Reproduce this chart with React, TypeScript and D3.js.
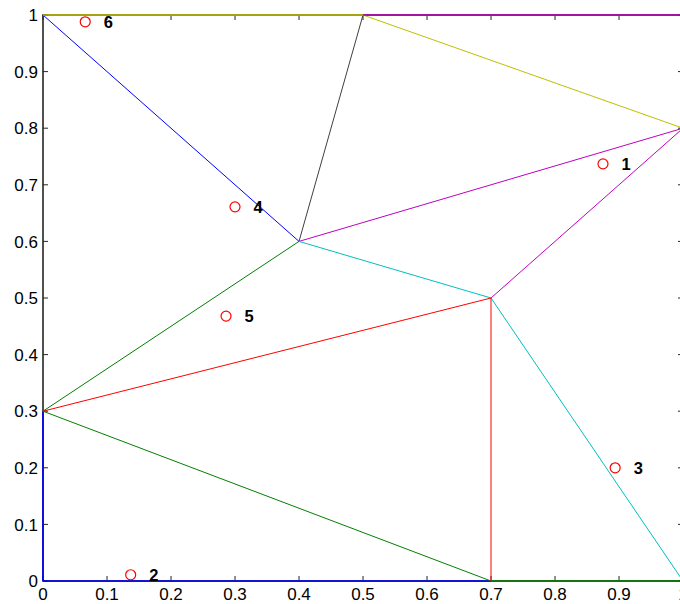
import React from "react";
import * as d3 from "d3";

const xTicks = [0, 0.1, 0.2, 0.3, 0.4, 0.5, 0.6, 0.7, 0.8, 0.9, 1];
const yTicks = [0, 0.1, 0.2, 0.3, 0.4, 0.5, 0.6, 0.7, 0.8, 0.9, 1];

// site points
const siteX = [0.875, 0.137, 0.894, 0.3, 0.286, 0.066];
const siteY = [0.737, 0.011, 0.2, 0.661, 0.468, 0.988];
const siteLabels = ["1", "2", "3", "4", "5", "6"];

// cell edges: [x1, y1, x2, y2]
const blueEdges = [[0, 1, 0.4, 0.6], [0, 0.3, 0, 0], [0, 0, 0.7, 0]];
const darkEdges = [[0.5, 1, 0.4, 0.6]];
const olivEdges = [[0, 1, 0.5, 1], [0.5, 1, 1, 0.8]];
const magentaEdges = [[0.5, 1, 1, 1], [0.4, 0.6, 1, 0.8], [0.7, 0.5, 1, 0.8]];
const cyanEdges = [[0.4, 0.6, 0.7, 0.5], [0.7, 0.5, 1, 0]];
const greenEdges = [[0.4, 0.6, 0, 0.3], [0, 0.3, 0.7, 0], [0.7, 0, 1, 0]];
const redEdges = [[0, 0.3, 0.7, 0.5], [0.7, 0.5, 0.7, 0]];

const edgeGroups: [number[][], string][] = [
  [blueEdges, "#0000ff"],
  [darkEdges, "#404040"],
  [olivEdges, "#bfbf00"],
  [magentaEdges, "#bf00bf"],
  [cyanEdges, "#00bfbf"],
  [greenEdges, "#008000"],
  [redEdges, "#ff0000"],
];

export default function App() {
  const W = 680, H = 604;
  const x = d3.scaleLinear().domain([0, 1]).range([43, 683]);
  const y = d3.scaleLinear().domain([0, 1]).range([581, 15]);
  const font = "'Liberation Sans', Arial, Helvetica, sans-serif";
  const tickLen = 5;
  const axisColor = "#262626";
  const isBorder = (e: number[]) =>
    (e[0] === e[2] && (e[0] === 0 || e[0] === 1)) || (e[1] === e[3] && (e[1] === 0 || e[1] === 1));
  return (
    <svg width={W} height={H} style={{ position: "absolute", left: 0, top: 0, background: "#fff" }}>
      <rect x={0} y={0} width={W} height={H} fill="#fff" />
      {/* axes box */}
      <rect x={x(0)} y={y(1)} width={x(1) - x(0)} height={y(0) - y(1)} fill="none" stroke={axisColor} strokeWidth={1.6} />
      {/* ticks */}
      {xTicks.map((t, i) => (
        <g key={"xt" + i}>
          <line x1={x(t)} x2={x(t)} y1={y(0)} y2={y(0) - tickLen} stroke={axisColor} />
          <line x1={x(t)} x2={x(t)} y1={y(1)} y2={y(1) + tickLen} stroke={axisColor} />
          <text x={x(t)} y={600} textAnchor="middle" fontFamily={font} fontSize={17} fill="#000">
            {String(t)}
          </text>
        </g>
      ))}
      {yTicks.map((t, i) => (
        <g key={"yt" + i}>
          <line x1={x(0)} x2={x(0) + tickLen} y1={y(t)} y2={y(t)} stroke={axisColor} />
          <line x1={x(1)} x2={x(1) - tickLen} y1={y(t)} y2={y(t)} stroke={axisColor} />
          <text x={38} y={y(t)} dy="0.36em" textAnchor="end" fontFamily={font} fontSize={17} fill="#000">
            {String(t)}
          </text>
        </g>
      ))}
      {/* cell edges */}
      {edgeGroups.map(([edges, color], gi) =>
        edges.map((e, i) => (
          <line
            key={"e" + gi + "_" + i}
            x1={x(e[0])}
            y1={y(e[1])}
            x2={x(e[2])}
            y2={y(e[3])}
            stroke={color}
            strokeWidth={isBorder(e) ? 1.6 : 1}
          />
        ))
      )}
      {/* sites */}
      {siteX.map((sx, i) => (
        <g key={"s" + i}>
          <circle cx={x(sx)} cy={y(siteY[i])} r={5} fill="none" stroke="#ff0000" strokeWidth={1.2} />
          <text x={x(sx + 0.029)} y={y(siteY[i])} dy="0.36em" fontFamily={font} fontSize={16.5} fontWeight="bold" fill="#000">
            {siteLabels[i]}
          </text>
        </g>
      ))}
    </svg>
  );
}
